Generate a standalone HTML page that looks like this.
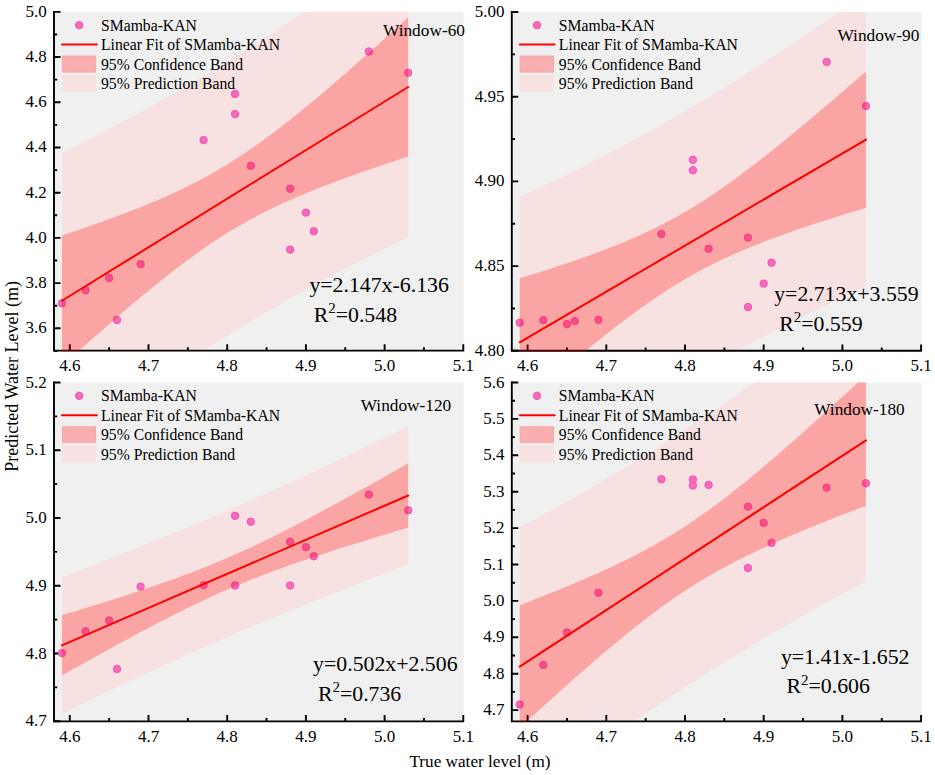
<!DOCTYPE html><html><head><meta charset="utf-8"><style>html,body{margin:0;padding:0;background:#fff;}svg{display:block;}text{font-family:"Liberation Serif", serif;fill:#000;}</style></head><body>
<svg width="935" height="775" viewBox="0 0 935 775">
<rect width="935" height="775" fill="#fff"/>
<defs><clipPath id="c0"><rect x="54" y="11.85" width="409.6" height="339.75"/></clipPath></defs>
<rect x="55" y="11.85" width="408.6" height="338.8" fill="#f0f0f0"/>
<g clip-path="url(#c0)">
<polygon fill="#f8e1e1" points="61.93,152.87 65.87,150.93 69.8,148.98 73.73,147.02 77.67,145.05 81.61,143.07 85.54,141.08 89.48,139.08 93.41,137.07 97.35,135.05 101.28,133.01 105.21,130.97 109.15,128.91 113.09,126.85 117.02,124.77 120.96,122.68 124.89,120.58 128.83,118.46 132.76,116.34 136.69,114.2 140.63,112.06 144.57,109.9 148.5,107.72 152.44,105.54 156.37,103.34 160.31,101.14 164.24,98.92 168.18,96.68 172.11,94.44 176.05,92.18 179.98,89.91 183.92,87.63 187.85,85.34 191.79,83.03 195.72,80.71 199.66,78.38 203.59,76.03 207.53,73.67 211.46,71.3 215.4,68.92 219.33,66.53 223.27,64.12 227.2,61.7 231.14,59.26 235.07,56.82 239.01,54.36 242.94,51.89 246.88,49.4 250.81,46.91 254.75,44.4 258.68,41.87 262.62,39.34 266.55,36.79 270.49,34.23 274.42,31.66 278.36,29.08 282.29,26.48 286.23,23.87 290.16,21.25 294.1,18.61 298.03,15.97 301.97,13.31 305.9,10.64 309.84,7.95 313.77,5.26 317.71,2.55 321.64,-0.16 325.58,-2.89 329.51,-5.64 333.45,-8.39 337.38,-11.15 341.32,-13.93 345.25,-16.72 349.19,-19.52 353.12,-22.33 357.06,-25.15 360.99,-27.98 364.93,-30.82 368.86,-33.68 372.8,-36.54 376.73,-39.42 380.67,-42.3 384.6,-45.2 388.54,-48.11 392.47,-51.02 396.41,-53.95 400.34,-56.89 404.28,-59.84 408.21,-62.79 408.21,236.77 404.28,238.67 400.34,240.59 396.41,242.51 392.47,244.44 388.54,246.38 384.6,248.33 380.67,250.29 376.73,252.26 372.8,254.24 368.86,256.24 364.93,258.24 360.99,260.26 357.06,262.28 353.12,264.32 349.19,266.36 345.25,268.42 341.32,270.49 337.38,272.57 333.45,274.67 329.51,276.77 325.58,278.89 321.64,281.02 317.71,283.15 313.77,285.31 309.84,287.47 305.9,289.64 301.97,291.83 298.03,294.03 294.1,296.24 290.16,298.47 286.23,300.7 282.29,302.95 278.36,305.21 274.42,307.48 270.49,309.77 266.55,312.07 262.62,314.38 258.68,316.7 254.75,319.03 250.81,321.38 246.88,323.74 242.94,326.12 239.01,328.5 235.07,330.9 231.14,333.31 227.2,335.74 223.27,338.17 219.33,340.62 215.4,343.09 211.46,345.56 207.53,348.05 203.59,350.55 199.66,353.06 195.72,355.59 191.79,358.13 187.85,360.68 183.92,363.24 179.98,365.81 176.05,368.4 172.11,371 168.18,373.62 164.24,376.24 160.31,378.88 156.37,381.53 152.44,384.19 148.5,386.86 144.57,389.55 140.63,392.25 136.69,394.96 132.76,397.68 128.83,400.41 124.89,403.16 120.96,405.91 117.02,408.68 113.09,411.46 109.15,414.25 105.21,417.05 101.28,419.87 97.35,422.69 93.41,425.53 89.48,428.37 85.54,431.23 81.61,434.1 77.67,436.97 73.73,439.86 69.8,442.76 65.87,445.67 61.93,448.59"/>
</g>
<g stroke="#000" stroke-width="1.9" fill="none">
<path d="M54 10.9V350.65H464.1"/>
<path d="M54 328.32H60.5M54 283.11H60.5M54 237.9H60.5M54 192.69H60.5M54 147.48H60.5M54 102.27H60.5M54 57.06H60.5M54 11.85H60.5M54 305.71H57.2M54 260.5H57.2M54 215.29H57.2M54 170.08H57.2M54 124.87H57.2M54 79.66H57.2M54 34.45H57.2M54 350.93H57.2M69.8 350.65V344.35M148.5 350.65V344.35M227.2 350.65V344.35M305.9 350.65V344.35M384.6 350.65V344.35M463.3 350.65V344.35M109.15 350.65V347.35M187.85 350.65V347.35M266.55 350.65V347.35M345.25 350.65V347.35M423.95 350.65V347.35"/>
</g>
<g clip-path="url(#c0)" fill="#f76abd" stroke="#f052b0" stroke-width="1">
<circle cx="61.93" cy="303.3" r="3.7"/>
<circle cx="85.54" cy="290.3" r="3.7"/>
<circle cx="109.15" cy="278" r="3.7"/>
<circle cx="117.02" cy="319.9" r="3.7"/>
<circle cx="140.63" cy="264.1" r="3.7"/>
<circle cx="203.59" cy="140.1" r="3.7"/>
<circle cx="235.07" cy="93.9" r="3.7"/>
<circle cx="235.07" cy="114.1" r="3.7"/>
<circle cx="250.81" cy="165.8" r="3.7"/>
<circle cx="290.16" cy="188.7" r="3.7"/>
<circle cx="290.16" cy="249.6" r="3.7"/>
<circle cx="305.9" cy="212.6" r="3.7"/>
<circle cx="313.77" cy="231.2" r="3.7"/>
<circle cx="368.86" cy="51.5" r="3.7"/>
<circle cx="408.21" cy="72.8" r="3.7"/>
</g>
<g clip-path="url(#c0)">
<polygon fill="rgba(255,0,0,0.27)" points="61.93,235.44 65.87,234.13 69.8,232.82 73.73,231.49 77.67,230.16 81.61,228.81 85.54,227.46 89.48,226.1 93.41,224.72 97.35,223.34 101.28,221.94 105.21,220.53 109.15,219.11 113.09,217.67 117.02,216.22 120.96,214.75 124.89,213.27 128.83,211.77 132.76,210.25 136.69,208.7 140.63,207.14 144.57,205.56 148.5,203.95 152.44,202.32 156.37,200.66 160.31,198.97 164.24,197.25 168.18,195.5 172.11,193.72 176.05,191.91 179.98,190.05 183.92,188.16 187.85,186.23 191.79,184.26 195.72,182.25 199.66,180.2 203.59,178.09 207.53,175.94 211.46,173.75 215.4,171.5 219.33,169.2 223.27,166.86 227.2,164.46 231.14,162.01 235.07,159.52 239.01,156.97 242.94,154.37 246.88,151.72 250.81,149.03 254.75,146.28 258.68,143.49 262.62,140.66 266.55,137.78 270.49,134.87 274.42,131.91 278.36,128.91 282.29,125.88 286.23,122.81 290.16,119.71 294.1,116.58 298.03,113.42 301.97,110.23 305.9,107.01 309.84,103.77 313.77,100.5 317.71,97.21 321.64,93.9 325.58,90.57 329.51,87.22 333.45,83.85 337.38,80.46 341.32,77.06 345.25,73.65 349.19,70.21 353.12,66.77 357.06,63.31 360.99,59.84 364.93,56.36 368.86,52.87 372.8,49.37 376.73,45.86 380.67,42.33 384.6,38.8 388.54,35.27 392.47,31.72 396.41,28.17 400.34,24.61 404.28,21.04 408.21,17.47 408.21,156.52 404.28,157.8 400.34,159.09 396.41,160.39 392.47,161.69 388.54,163 384.6,164.32 380.67,165.65 376.73,166.99 372.8,168.33 368.86,169.69 364.93,171.06 360.99,172.43 357.06,173.82 353.12,175.22 349.19,176.63 345.25,178.06 341.32,179.5 337.38,180.96 333.45,182.43 329.51,183.92 325.58,185.42 321.64,186.95 317.71,188.5 313.77,190.06 309.84,191.66 305.9,193.27 301.97,194.91 298.03,196.58 294.1,198.27 290.16,200 286.23,201.76 282.29,203.55 278.36,205.37 274.42,207.23 270.49,209.13 266.55,211.07 262.62,213.05 258.68,215.08 254.75,217.15 250.81,219.26 246.88,221.42 242.94,223.63 239.01,225.89 235.07,228.2 231.14,230.56 227.2,232.97 223.27,235.43 219.33,237.95 215.4,240.51 211.46,243.12 207.53,245.78 203.59,248.49 199.66,251.24 195.72,254.04 191.79,256.89 187.85,259.78 183.92,262.7 179.98,265.67 176.05,268.68 172.11,271.72 168.18,274.8 164.24,277.91 160.31,281.05 156.37,284.22 152.44,287.41 148.5,290.64 144.57,293.89 140.63,297.16 136.69,300.46 132.76,303.77 128.83,307.11 124.89,310.46 120.96,313.84 117.02,317.23 113.09,320.63 109.15,324.05 105.21,327.49 101.28,330.94 97.35,334.4 93.41,337.87 89.48,341.36 85.54,344.85 81.61,348.36 77.67,351.87 73.73,355.39 69.8,358.93 65.87,362.47 61.93,366.01"/>
<line x1="61.93" y1="300.73" x2="408.21" y2="86.99" stroke="#ff0000" stroke-width="2" stroke-linecap="round"/>
</g>
<text x="46.7" y="333.32" font-size="17" text-anchor="end">3.6</text>
<text x="46.7" y="288.11" font-size="17" text-anchor="end">3.8</text>
<text x="46.7" y="242.9" font-size="17" text-anchor="end">4.0</text>
<text x="46.7" y="197.69" font-size="17" text-anchor="end">4.2</text>
<text x="46.7" y="152.48" font-size="17" text-anchor="end">4.4</text>
<text x="46.7" y="107.27" font-size="17" text-anchor="end">4.6</text>
<text x="46.7" y="62.06" font-size="17" text-anchor="end">4.8</text>
<text x="46.7" y="16.85" font-size="17" text-anchor="end">5.0</text>
<text x="69.8" y="370.95" font-size="17" text-anchor="middle">4.6</text>
<text x="148.5" y="370.95" font-size="17" text-anchor="middle">4.7</text>
<text x="227.2" y="370.95" font-size="17" text-anchor="middle">4.8</text>
<text x="305.9" y="370.95" font-size="17" text-anchor="middle">4.9</text>
<text x="384.6" y="370.95" font-size="17" text-anchor="middle">5.0</text>
<text x="463.3" y="370.95" font-size="17" text-anchor="middle">5.1</text>
<circle cx="79.2" cy="25.15" r="3.7" fill="#f76abd" stroke="#f052b0" stroke-width="1"/>
<line x1="62" y1="44.6" x2="96.8" y2="44.6" stroke="#ff0000" stroke-width="2" stroke-linecap="round"/>
<rect x="62.3" y="56" width="33.4" height="16.1" fill="#f9afb0" stroke="#f7a0a1" stroke-width="0.8"/>
<rect x="61.9" y="75" width="34.2" height="16.7" fill="#f8e1e1"/>
<text x="101" y="30.6" font-size="15.7">SMamba-KAN</text>
<text x="101" y="50.1" font-size="15.7">Linear Fit of SMamba-KAN</text>
<text x="101" y="69.6" font-size="15.7">95% Confidence Band</text>
<text x="101" y="89.1" font-size="15.7">95% Prediction Band</text>
<text x="424" y="36.2" font-size="17.3" text-anchor="middle">Window-60</text>
<text x="309.4" y="292.2" font-size="21.8">y=2.147x-6.136</text>
<text x="313.7" y="321.8" font-size="21.8">R<tspan font-size="15" dy="-8.5">2</tspan><tspan dy="8.5">=0.548</tspan></text>
<defs><clipPath id="c1"><rect x="511.8" y="12" width="409.6" height="339.65"/></clipPath></defs>
<rect x="512.8" y="12" width="408.6" height="338.7" fill="#f0f0f0"/>
<g clip-path="url(#c1)">
<polygon fill="#f8e1e1" points="519.73,197.26 523.67,195.44 527.6,193.61 531.53,191.77 535.47,189.91 539.41,188.05 543.34,186.18 547.28,184.3 551.21,182.4 555.15,180.5 559.08,178.58 563.01,176.66 566.95,174.72 570.89,172.77 574.82,170.81 578.76,168.84 582.69,166.86 586.63,164.87 590.56,162.86 594.5,160.84 598.43,158.82 602.37,156.78 606.3,154.73 610.24,152.66 614.17,150.59 618.11,148.5 622.04,146.4 625.98,144.29 629.91,142.17 633.85,140.04 637.78,137.89 641.72,135.73 645.65,133.56 649.59,131.37 653.52,129.18 657.46,126.97 661.39,124.75 665.33,122.52 669.26,120.27 673.2,118.01 677.13,115.74 681.07,113.46 685,111.16 688.94,108.86 692.87,106.54 696.81,104.2 700.74,101.86 704.68,99.5 708.61,97.13 712.55,94.75 716.48,92.35 720.42,89.95 724.35,87.53 728.29,85.09 732.22,82.65 736.16,80.19 740.09,77.73 744.03,75.25 747.96,72.75 751.9,70.25 755.83,67.73 759.77,65.2 763.7,62.66 767.64,60.11 771.57,57.55 775.51,54.97 779.44,52.38 783.38,49.78 787.31,47.17 791.25,44.55 795.18,41.92 799.12,39.28 803.05,36.62 806.99,33.95 810.92,31.28 814.86,28.59 818.79,25.89 822.73,23.18 826.66,20.46 830.6,17.73 834.53,14.99 838.47,12.24 842.4,9.47 846.34,6.7 850.27,3.92 854.21,1.13 858.14,-1.67 862.08,-4.49 866.01,-7.31 866.01,286.61 862.08,288.4 858.14,290.19 854.21,292 850.27,293.81 846.34,295.63 842.4,297.47 838.47,299.31 834.53,301.17 830.6,303.03 826.66,304.91 822.73,306.8 818.79,308.69 814.86,310.6 810.92,312.52 806.99,314.45 803.05,316.39 799.12,318.34 795.18,320.3 791.25,322.27 787.31,324.26 783.38,326.26 779.44,328.26 775.51,330.28 771.57,332.31 767.64,334.36 763.7,336.41 759.77,338.48 755.83,340.55 751.9,342.64 747.96,344.74 744.03,346.86 740.09,348.98 736.16,351.12 732.22,353.27 728.29,355.44 724.35,357.61 720.42,359.8 716.48,362 712.55,364.21 708.61,366.43 704.68,368.67 700.74,370.92 696.81,373.18 692.87,375.45 688.94,377.74 685,380.04 681.07,382.35 677.13,384.67 673.2,387.01 669.26,389.36 665.33,391.72 661.39,394.09 657.46,396.48 653.52,398.87 649.59,401.28 645.65,403.71 641.72,406.14 637.78,408.59 633.85,411.05 629.91,413.52 625.98,416 622.04,418.5 618.11,421.01 614.17,423.53 610.24,426.06 606.3,428.6 602.37,431.16 598.43,433.73 594.5,436.3 590.56,438.9 586.63,441.5 582.69,444.11 578.76,446.73 574.82,449.37 570.89,452.02 566.95,454.68 563.01,457.35 559.08,460.03 555.15,462.72 551.21,465.42 547.28,468.13 543.34,470.85 539.41,473.59 535.47,476.33 531.53,479.09 527.6,481.85 523.67,484.63 519.73,487.41"/>
</g>
<g stroke="#000" stroke-width="1.9" fill="none">
<path d="M511.8 11.05V350.7H921.9"/>
<path d="M511.8 350.8H518.3M511.8 266.1H518.3M511.8 181.4H518.3M511.8 96.7H518.3M511.8 12H518.3M511.8 308.45H515M511.8 223.75H515M511.8 139.05H515M511.8 54.35H515M527.6 350.7V344.4M606.3 350.7V344.4M685 350.7V344.4M763.7 350.7V344.4M842.4 350.7V344.4M921.1 350.7V344.4M566.95 350.7V347.4M645.65 350.7V347.4M724.35 350.7V347.4M803.05 350.7V347.4M881.75 350.7V347.4"/>
</g>
<g clip-path="url(#c1)" fill="#f76abd" stroke="#f052b0" stroke-width="1">
<circle cx="519.73" cy="322.7" r="3.7"/>
<circle cx="543.34" cy="320.1" r="3.7"/>
<circle cx="566.95" cy="324.1" r="3.7"/>
<circle cx="574.82" cy="321.1" r="3.7"/>
<circle cx="598.43" cy="319.8" r="3.7"/>
<circle cx="661.39" cy="234" r="3.7"/>
<circle cx="692.87" cy="159.8" r="3.7"/>
<circle cx="692.87" cy="170.2" r="3.7"/>
<circle cx="708.61" cy="248.8" r="3.7"/>
<circle cx="747.96" cy="237.6" r="3.7"/>
<circle cx="747.96" cy="307" r="3.7"/>
<circle cx="763.7" cy="283.6" r="3.7"/>
<circle cx="771.57" cy="262.7" r="3.7"/>
<circle cx="826.66" cy="61.9" r="3.7"/>
<circle cx="866.01" cy="106" r="3.7"/>
</g>
<g clip-path="url(#c1)">
<polygon fill="rgba(255,0,0,0.27)" points="519.73,278.28 523.67,277.08 527.6,275.86 531.53,274.64 535.47,273.41 539.41,272.18 543.34,270.93 547.28,269.67 551.21,268.4 555.15,267.12 559.08,265.83 563.01,264.53 566.95,263.21 570.89,261.88 574.82,260.54 578.76,259.18 582.69,257.8 586.63,256.41 590.56,255 594.5,253.56 598.43,252.11 602.37,250.64 606.3,249.14 610.24,247.62 614.17,246.07 618.11,244.49 622.04,242.88 625.98,241.25 629.91,239.58 633.85,237.88 637.78,236.14 641.72,234.37 645.65,232.56 649.59,230.7 653.52,228.81 657.46,226.87 661.39,224.89 665.33,222.86 669.26,220.78 673.2,218.66 677.13,216.48 681.07,214.26 685,211.99 688.94,209.67 692.87,207.3 696.81,204.88 700.74,202.41 704.68,199.89 708.61,197.32 712.55,194.71 716.48,192.06 720.42,189.36 724.35,186.61 728.29,183.83 732.22,181.01 736.16,178.15 740.09,175.25 744.03,172.33 747.96,169.36 751.9,166.37 755.83,163.35 759.77,160.3 763.7,157.22 767.64,154.12 771.57,150.99 775.51,147.84 779.44,144.68 783.38,141.49 787.31,138.28 791.25,135.05 795.18,131.81 799.12,128.55 803.05,125.28 806.99,121.99 810.92,118.69 814.86,115.38 818.79,112.06 822.73,108.72 826.66,105.38 830.6,102.02 834.53,98.65 838.47,95.28 842.4,91.89 846.34,88.5 850.27,85.1 854.21,81.7 858.14,78.28 862.08,74.86 866.01,71.44 866.01,207.87 862.08,209.05 858.14,210.23 854.21,211.43 850.27,212.63 846.34,213.83 842.4,215.05 838.47,216.27 834.53,217.5 830.6,218.74 826.66,219.99 822.73,221.25 818.79,222.52 814.86,223.81 810.92,225.1 806.99,226.41 803.05,227.73 799.12,229.06 795.18,230.41 791.25,231.77 787.31,233.15 783.38,234.55 779.44,235.97 775.51,237.41 771.57,238.87 767.64,240.35 763.7,241.85 759.77,243.38 755.83,244.94 751.9,246.52 747.96,248.13 744.03,249.78 740.09,251.46 736.16,253.17 732.22,254.91 728.29,256.7 724.35,258.52 720.42,260.39 716.48,262.29 712.55,264.24 708.61,266.24 704.68,268.28 700.74,270.37 696.81,272.5 692.87,274.69 688.94,276.93 685,279.21 681.07,281.54 677.13,283.93 673.2,286.36 669.26,288.85 665.33,291.38 661.39,293.95 657.46,296.58 653.52,299.25 649.59,301.96 645.65,304.71 641.72,307.5 637.78,310.34 633.85,313.21 629.91,316.11 625.98,319.05 622.04,322.02 618.11,325.02 614.17,328.05 610.24,331.11 606.3,334.19 602.37,337.3 598.43,340.43 594.5,343.59 590.56,346.76 586.63,349.95 582.69,353.17 578.76,356.4 574.82,359.64 570.89,362.9 566.95,366.18 563.01,369.47 559.08,372.77 555.15,376.09 551.21,379.42 547.28,382.76 543.34,386.11 539.41,389.46 535.47,392.83 531.53,396.21 527.6,399.6 523.67,402.99 519.73,406.39"/>
<line x1="519.73" y1="342.34" x2="866.01" y2="139.65" stroke="#ff0000" stroke-width="2" stroke-linecap="round"/>
</g>
<text x="504.5" y="355.8" font-size="17" text-anchor="end">4.80</text>
<text x="504.5" y="271.1" font-size="17" text-anchor="end">4.85</text>
<text x="504.5" y="186.4" font-size="17" text-anchor="end">4.90</text>
<text x="504.5" y="101.7" font-size="17" text-anchor="end">4.95</text>
<text x="504.5" y="17" font-size="17" text-anchor="end">5.00</text>
<text x="527.6" y="371" font-size="17" text-anchor="middle">4.6</text>
<text x="606.3" y="371" font-size="17" text-anchor="middle">4.7</text>
<text x="685" y="371" font-size="17" text-anchor="middle">4.8</text>
<text x="763.7" y="371" font-size="17" text-anchor="middle">4.9</text>
<text x="842.4" y="371" font-size="17" text-anchor="middle">5.0</text>
<text x="921.1" y="371" font-size="17" text-anchor="middle">5.1</text>
<circle cx="537" cy="25.15" r="3.7" fill="#f76abd" stroke="#f052b0" stroke-width="1"/>
<line x1="519.8" y1="44.6" x2="554.6" y2="44.6" stroke="#ff0000" stroke-width="2" stroke-linecap="round"/>
<rect x="520.1" y="56" width="33.4" height="16.1" fill="#f9afb0" stroke="#f7a0a1" stroke-width="0.8"/>
<rect x="519.7" y="75" width="34.2" height="16.7" fill="#f8e1e1"/>
<text x="558.8" y="30.6" font-size="15.7">SMamba-KAN</text>
<text x="558.8" y="50.1" font-size="15.7">Linear Fit of SMamba-KAN</text>
<text x="558.8" y="69.6" font-size="15.7">95% Confidence Band</text>
<text x="558.8" y="89.1" font-size="15.7">95% Prediction Band</text>
<text x="878.4" y="41.2" font-size="17.3" text-anchor="middle">Window-90</text>
<text x="774.2" y="301.4" font-size="21.8">y=2.713x+3.559</text>
<text x="779.2" y="330.5" font-size="21.8">R<tspan font-size="15" dy="-8.5">2</tspan><tspan dy="8.5">=0.559</tspan></text>
<defs><clipPath id="c2"><rect x="54" y="382.5" width="409.6" height="339.8"/></clipPath></defs>
<rect x="55" y="382.5" width="408.6" height="338.85" fill="#f0f0f0"/>
<g clip-path="url(#c2)">
<polygon fill="#f8e1e1" points="61.93,577.07 65.87,575.6 69.8,574.12 73.73,572.63 77.67,571.14 81.61,569.64 85.54,568.14 89.48,566.64 93.41,565.13 97.35,563.61 101.28,562.09 105.21,560.56 109.15,559.03 113.09,557.5 117.02,555.96 120.96,554.41 124.89,552.86 128.83,551.3 132.76,549.74 136.69,548.17 140.63,546.59 144.57,545.02 148.5,543.43 152.44,541.84 156.37,540.25 160.31,538.64 164.24,537.04 168.18,535.42 172.11,533.81 176.05,532.18 179.98,530.55 183.92,528.92 187.85,527.28 191.79,525.63 195.72,523.98 199.66,522.32 203.59,520.65 207.53,518.98 211.46,517.31 215.4,515.62 219.33,513.94 223.27,512.24 227.2,510.54 231.14,508.84 235.07,507.13 239.01,505.41 242.94,503.69 246.88,501.96 250.81,500.22 254.75,498.48 258.68,496.74 262.62,494.98 266.55,493.23 270.49,491.46 274.42,489.69 278.36,487.92 282.29,486.14 286.23,484.35 290.16,482.56 294.1,480.76 298.03,478.95 301.97,477.15 305.9,475.33 309.84,473.51 313.77,471.68 317.71,469.85 321.64,468.02 325.58,466.17 329.51,464.33 333.45,462.47 337.38,460.61 341.32,458.75 345.25,456.88 349.19,455.01 353.12,453.13 357.06,451.24 360.99,449.35 364.93,447.46 368.86,445.56 372.8,443.65 376.73,441.74 380.67,439.83 384.6,437.91 388.54,435.99 392.47,434.06 396.41,432.13 400.34,430.19 404.28,428.24 408.21,426.3 408.21,564.64 404.28,566.1 400.34,567.56 396.41,569.03 392.47,570.51 388.54,571.98 384.6,573.47 380.67,574.95 376.73,576.45 372.8,577.94 368.86,579.45 364.93,580.95 360.99,582.46 357.06,583.98 353.12,585.5 349.19,587.03 345.25,588.56 341.32,590.1 337.38,591.64 333.45,593.19 329.51,594.74 325.58,596.3 321.64,597.87 317.71,599.44 313.77,601.01 309.84,602.59 305.9,604.18 301.97,605.77 298.03,607.37 294.1,608.97 290.16,610.58 286.23,612.19 282.29,613.81 278.36,615.44 274.42,617.07 270.49,618.71 266.55,620.35 262.62,622 258.68,623.65 254.75,625.31 250.81,626.98 246.88,628.65 242.94,630.33 239.01,632.01 235.07,633.7 231.14,635.4 227.2,637.1 223.27,638.8 219.33,640.52 215.4,642.24 211.46,643.96 207.53,645.69 203.59,647.43 199.66,649.17 195.72,650.92 191.79,652.67 187.85,654.43 183.92,656.2 179.98,657.97 176.05,659.74 172.11,661.53 168.18,663.32 164.24,665.11 160.31,666.91 156.37,668.71 152.44,670.52 148.5,672.34 144.57,674.16 140.63,675.99 136.69,677.82 132.76,679.66 128.83,681.51 124.89,683.36 120.96,685.21 117.02,687.07 113.09,688.93 109.15,690.81 105.21,692.68 101.28,694.56 97.35,696.45 93.41,698.34 89.48,700.23 85.54,702.14 81.61,704.04 77.67,705.95 73.73,707.87 69.8,709.79 65.87,711.71 61.93,713.64"/>
</g>
<g stroke="#000" stroke-width="1.9" fill="none">
<path d="M54 381.55V721.35H464.1"/>
<path d="M54 721.25H60.5M54 653.5H60.5M54 585.75H60.5M54 518H60.5M54 450.25H60.5M54 382.5H60.5M54 687.38H57.2M54 619.63H57.2M54 551.88H57.2M54 484.13H57.2M54 416.38H57.2M69.8 721.35V715.05M148.5 721.35V715.05M227.2 721.35V715.05M305.9 721.35V715.05M384.6 721.35V715.05M463.3 721.35V715.05M109.15 721.35V718.05M187.85 721.35V718.05M266.55 721.35V718.05M345.25 721.35V718.05M423.95 721.35V718.05"/>
</g>
<g clip-path="url(#c2)" fill="#f76abd" stroke="#f052b0" stroke-width="1">
<circle cx="61.93" cy="653" r="3.7"/>
<circle cx="85.54" cy="631.3" r="3.7"/>
<circle cx="109.15" cy="620.4" r="3.7"/>
<circle cx="117.02" cy="669" r="3.7"/>
<circle cx="140.63" cy="586.6" r="3.7"/>
<circle cx="203.59" cy="585.1" r="3.7"/>
<circle cx="235.07" cy="515.8" r="3.7"/>
<circle cx="235.07" cy="585.4" r="3.7"/>
<circle cx="250.81" cy="521.7" r="3.7"/>
<circle cx="290.16" cy="541.7" r="3.7"/>
<circle cx="290.16" cy="585.5" r="3.7"/>
<circle cx="305.9" cy="547.2" r="3.7"/>
<circle cx="313.77" cy="556.3" r="3.7"/>
<circle cx="368.86" cy="494.6" r="3.7"/>
<circle cx="408.21" cy="510.3" r="3.7"/>
</g>
<g clip-path="url(#c2)">
<polygon fill="rgba(255,0,0,0.27)" points="61.93,615.21 65.87,614.02 69.8,612.83 73.73,611.64 77.67,610.44 81.61,609.24 85.54,608.03 89.48,606.82 93.41,605.61 97.35,604.38 101.28,603.16 105.21,601.93 109.15,600.69 113.09,599.44 117.02,598.19 120.96,596.93 124.89,595.66 128.83,594.39 132.76,593.1 136.69,591.81 140.63,590.51 144.57,589.19 148.5,587.87 152.44,586.53 156.37,585.19 160.31,583.82 164.24,582.45 168.18,581.06 172.11,579.66 176.05,578.24 179.98,576.8 183.92,575.34 187.85,573.87 191.79,572.38 195.72,570.87 199.66,569.34 203.59,567.79 207.53,566.21 211.46,564.62 215.4,563 219.33,561.35 223.27,559.69 227.2,558 231.14,556.29 235.07,554.55 239.01,552.8 242.94,551.01 246.88,549.21 250.81,547.38 254.75,545.53 258.68,543.66 262.62,541.77 266.55,539.86 270.49,537.94 274.42,535.99 278.36,534.02 282.29,532.04 286.23,530.04 290.16,528.03 294.1,526 298.03,523.96 301.97,521.9 305.9,519.84 309.84,517.76 313.77,515.67 317.71,513.57 321.64,511.46 325.58,509.34 329.51,507.21 333.45,505.07 337.38,502.92 341.32,500.77 345.25,498.61 349.19,496.45 353.12,494.27 357.06,492.1 360.99,489.91 364.93,487.72 368.86,485.53 372.8,483.33 376.73,481.13 380.67,478.92 384.6,476.71 388.54,474.49 392.47,472.27 396.41,470.05 400.34,467.82 404.28,465.59 408.21,463.36 408.21,527.58 404.28,528.75 400.34,529.93 396.41,531.11 392.47,532.29 388.54,533.48 384.6,534.67 380.67,535.87 376.73,537.07 372.8,538.27 368.86,539.48 364.93,540.69 360.99,541.91 357.06,543.13 353.12,544.36 349.19,545.59 345.25,546.83 341.32,548.08 337.38,549.33 333.45,550.59 329.51,551.86 325.58,553.14 321.64,554.43 317.71,555.72 313.77,557.03 309.84,558.34 305.9,559.67 301.97,561.01 298.03,562.36 294.1,563.73 290.16,565.11 286.23,566.5 282.29,567.91 278.36,569.33 274.42,570.77 270.49,572.23 266.55,573.71 262.62,575.21 258.68,576.72 254.75,578.26 250.81,579.82 246.88,581.4 242.94,583 239.01,584.63 235.07,586.27 231.14,587.95 227.2,589.64 223.27,591.36 219.33,593.1 215.4,594.86 211.46,596.65 207.53,598.46 203.59,600.29 199.66,602.15 195.72,604.02 191.79,605.92 187.85,607.83 183.92,609.77 179.98,611.72 176.05,613.69 172.11,615.68 168.18,617.68 164.24,619.7 160.31,621.73 156.37,623.77 152.44,625.83 148.5,627.9 144.57,629.99 140.63,632.08 136.69,634.18 132.76,636.3 128.83,638.42 124.89,640.55 120.96,642.69 117.02,644.84 113.09,646.99 109.15,649.15 105.21,651.32 101.28,653.49 97.35,655.67 93.41,657.86 89.48,660.05 85.54,662.24 81.61,664.45 77.67,666.65 73.73,668.86 69.8,671.07 65.87,673.29 61.93,675.51"/>
<line x1="61.93" y1="645.36" x2="408.21" y2="495.47" stroke="#ff0000" stroke-width="2" stroke-linecap="round"/>
</g>
<text x="46.7" y="726.25" font-size="17" text-anchor="end">4.7</text>
<text x="46.7" y="658.5" font-size="17" text-anchor="end">4.8</text>
<text x="46.7" y="590.75" font-size="17" text-anchor="end">4.9</text>
<text x="46.7" y="523" font-size="17" text-anchor="end">5.0</text>
<text x="46.7" y="455.25" font-size="17" text-anchor="end">5.1</text>
<text x="46.7" y="387.5" font-size="17" text-anchor="end">5.2</text>
<text x="69.8" y="741.65" font-size="17" text-anchor="middle">4.6</text>
<text x="148.5" y="741.65" font-size="17" text-anchor="middle">4.7</text>
<text x="227.2" y="741.65" font-size="17" text-anchor="middle">4.8</text>
<text x="305.9" y="741.65" font-size="17" text-anchor="middle">4.9</text>
<text x="384.6" y="741.65" font-size="17" text-anchor="middle">5.0</text>
<text x="463.3" y="741.65" font-size="17" text-anchor="middle">5.1</text>
<circle cx="79.2" cy="395.85" r="3.7" fill="#f76abd" stroke="#f052b0" stroke-width="1"/>
<line x1="62" y1="415.3" x2="96.8" y2="415.3" stroke="#ff0000" stroke-width="2" stroke-linecap="round"/>
<rect x="62.3" y="426.7" width="33.4" height="16.1" fill="#f9afb0" stroke="#f7a0a1" stroke-width="0.8"/>
<rect x="61.9" y="445.7" width="34.2" height="16.7" fill="#f8e1e1"/>
<text x="101" y="401.3" font-size="15.7">SMamba-KAN</text>
<text x="101" y="420.8" font-size="15.7">Linear Fit of SMamba-KAN</text>
<text x="101" y="440.3" font-size="15.7">95% Confidence Band</text>
<text x="101" y="459.8" font-size="15.7">95% Prediction Band</text>
<text x="406" y="410.7" font-size="17.3" text-anchor="middle">Window-120</text>
<text x="313.1" y="670.5" font-size="21.8">y=0.502x+2.506</text>
<text x="317.9" y="700.5" font-size="21.8">R<tspan font-size="15" dy="-8.5">2</tspan><tspan dy="8.5">=0.736</tspan></text>
<defs><clipPath id="c3"><rect x="511.8" y="382.5" width="409.6" height="339.8"/></clipPath></defs>
<rect x="512.8" y="382.5" width="408.6" height="338.85" fill="#f0f0f0"/>
<g clip-path="url(#c3)">
<polygon fill="#f8e1e1" points="519.73,527.63 523.67,525.52 527.6,523.4 531.53,521.27 535.47,519.13 539.41,516.98 543.34,514.83 547.28,512.66 551.21,510.48 555.15,508.29 559.08,506.09 563.01,503.88 566.95,501.66 570.89,499.43 574.82,497.18 578.76,494.93 582.69,492.67 586.63,490.39 590.56,488.11 594.5,485.81 598.43,483.5 602.37,481.19 606.3,478.86 610.24,476.52 614.17,474.16 618.11,471.8 622.04,469.42 625.98,467.04 629.91,464.64 633.85,462.23 637.78,459.81 641.72,457.37 645.65,454.93 649.59,452.47 653.52,450 657.46,447.52 661.39,445.03 665.33,442.53 669.26,440.01 673.2,437.48 677.13,434.94 681.07,432.39 685,429.83 688.94,427.25 692.87,424.66 696.81,422.06 700.74,419.45 704.68,416.83 708.61,414.19 712.55,411.55 716.48,408.89 720.42,406.22 724.35,403.53 728.29,400.84 732.22,398.13 736.16,395.41 740.09,392.68 744.03,389.94 747.96,387.19 751.9,384.43 755.83,381.65 759.77,378.86 763.7,376.06 767.64,373.25 771.57,370.43 775.51,367.6 779.44,364.76 783.38,361.9 787.31,359.04 791.25,356.16 795.18,353.27 799.12,350.38 803.05,347.47 806.99,344.55 810.92,341.62 814.86,338.68 818.79,335.73 822.73,332.77 826.66,329.8 830.6,326.82 834.53,323.82 838.47,320.82 842.4,317.81 846.34,314.79 850.27,311.76 854.21,308.72 858.14,305.67 862.08,302.62 866.01,299.55 866.01,581.11 862.08,583.18 858.14,585.27 854.21,587.36 850.27,589.47 846.34,591.58 842.4,593.7 838.47,595.83 834.53,597.97 830.6,600.13 826.66,602.29 822.73,604.46 818.79,606.64 814.86,608.83 810.92,611.04 806.99,613.25 803.05,615.47 799.12,617.71 795.18,619.95 791.25,622.21 787.31,624.47 783.38,626.75 779.44,629.04 775.51,631.34 771.57,633.65 767.64,635.97 763.7,638.3 759.77,640.65 755.83,643 751.9,645.37 747.96,647.75 744.03,650.14 740.09,652.54 736.16,654.95 732.22,657.38 728.29,659.81 724.35,662.26 720.42,664.72 716.48,667.19 712.55,669.68 708.61,672.17 704.68,674.68 700.74,677.2 696.81,679.73 692.87,682.27 688.94,684.83 685,687.4 681.07,689.97 677.13,692.57 673.2,695.17 669.26,697.78 665.33,700.41 661.39,703.05 657.46,705.7 653.52,708.36 649.59,711.03 645.65,713.72 641.72,716.42 637.78,719.13 633.85,721.85 629.91,724.58 625.98,727.33 622.04,730.08 618.11,732.85 614.17,735.63 610.24,738.42 606.3,741.22 602.37,744.03 598.43,746.86 594.5,749.69 590.56,752.54 586.63,755.4 582.69,758.26 578.76,761.14 574.82,764.03 570.89,766.93 566.95,769.85 563.01,772.77 559.08,775.7 555.15,778.64 551.21,781.6 547.28,784.56 543.34,787.53 539.41,790.52 535.47,793.51 531.53,796.51 527.6,799.53 523.67,802.55 519.73,805.58"/>
</g>
<g stroke="#000" stroke-width="1.9" fill="none">
<path d="M511.8 381.55V721.35H921.9"/>
<path d="M511.8 710.1H518.3M511.8 673.7H518.3M511.8 637.3H518.3M511.8 600.9H518.3M511.8 564.5H518.3M511.8 528.1H518.3M511.8 491.7H518.3M511.8 455.3H518.3M511.8 418.9H518.3M511.8 382.5H518.3M511.8 691.9H515M511.8 655.5H515M511.8 619.1H515M511.8 582.7H515M511.8 546.3H515M511.8 509.9H515M511.8 473.5H515M511.8 437.1H515M511.8 400.7H515M527.6 721.35V715.05M606.3 721.35V715.05M685 721.35V715.05M763.7 721.35V715.05M842.4 721.35V715.05M921.1 721.35V715.05M566.95 721.35V718.05M645.65 721.35V718.05M724.35 721.35V718.05M803.05 721.35V718.05M881.75 721.35V718.05"/>
</g>
<g clip-path="url(#c3)" fill="#f76abd" stroke="#f052b0" stroke-width="1">
<circle cx="519.73" cy="704.5" r="3.7"/>
<circle cx="543.34" cy="664.9" r="3.7"/>
<circle cx="566.95" cy="632.4" r="3.7"/>
<circle cx="574.82" cy="739.22" r="3.7"/>
<circle cx="598.43" cy="592.7" r="3.7"/>
<circle cx="661.39" cy="479.2" r="3.7"/>
<circle cx="692.87" cy="479.5" r="3.7"/>
<circle cx="692.87" cy="485.5" r="3.7"/>
<circle cx="708.61" cy="484.9" r="3.7"/>
<circle cx="747.96" cy="506.6" r="3.7"/>
<circle cx="747.96" cy="568" r="3.7"/>
<circle cx="763.7" cy="522.9" r="3.7"/>
<circle cx="771.57" cy="542.9" r="3.7"/>
<circle cx="826.66" cy="487.6" r="3.7"/>
<circle cx="866.01" cy="483.2" r="3.7"/>
</g>
<g clip-path="url(#c3)">
<polygon fill="rgba(255,0,0,0.27)" points="519.73,605.25 523.67,603.73 527.6,602.2 531.53,600.67 535.47,599.12 539.41,597.57 543.34,596.01 547.28,594.44 551.21,592.86 555.15,591.27 559.08,589.67 563.01,588.06 566.95,586.43 570.89,584.79 574.82,583.14 578.76,581.47 582.69,579.79 586.63,578.09 590.56,576.37 594.5,574.63 598.43,572.88 602.37,571.1 606.3,569.3 610.24,567.48 614.17,565.63 618.11,563.75 622.04,561.85 625.98,559.92 629.91,557.95 633.85,555.96 637.78,553.93 641.72,551.87 645.65,549.76 649.59,547.62 653.52,545.44 657.46,543.22 661.39,540.96 665.33,538.65 669.26,536.29 673.2,533.9 677.13,531.45 681.07,528.96 685,526.41 688.94,523.83 692.87,521.19 696.81,518.51 700.74,515.77 704.68,513 708.61,510.18 712.55,507.31 716.48,504.4 720.42,501.45 724.35,498.46 728.29,495.42 732.22,492.36 736.16,489.25 740.09,486.11 744.03,482.94 747.96,479.74 751.9,476.51 755.83,473.25 759.77,469.96 763.7,466.65 767.64,463.31 771.57,459.95 775.51,456.57 779.44,453.17 783.38,449.75 787.31,446.31 791.25,442.86 795.18,439.39 799.12,435.9 803.05,432.4 806.99,428.89 810.92,425.36 814.86,421.82 818.79,418.27 822.73,414.71 826.66,411.14 830.6,407.56 834.53,403.97 838.47,400.37 842.4,396.77 846.34,393.15 850.27,389.53 854.21,385.91 858.14,382.27 862.08,378.63 866.01,374.98 866.01,505.68 862.08,507.17 858.14,508.67 854.21,510.18 850.27,511.69 846.34,513.22 842.4,514.74 838.47,516.28 834.53,517.83 830.6,519.38 826.66,520.94 822.73,522.51 818.79,524.1 814.86,525.69 810.92,527.29 806.99,528.91 803.05,530.54 799.12,532.18 795.18,533.84 791.25,535.51 787.31,537.2 783.38,538.9 779.44,540.63 775.51,542.37 771.57,544.13 767.64,545.91 763.7,547.72 759.77,549.55 755.83,551.41 751.9,553.29 747.96,555.2 744.03,557.14 740.09,559.11 736.16,561.11 732.22,563.15 728.29,565.23 724.35,567.34 720.42,569.49 716.48,571.68 712.55,573.91 708.61,576.19 704.68,578.51 700.74,580.88 696.81,583.29 692.87,585.75 688.94,588.25 685,590.81 681.07,593.41 677.13,596.06 673.2,598.75 669.26,601.5 665.33,604.29 661.39,607.12 657.46,610 653.52,612.92 649.59,615.88 645.65,618.88 641.72,621.93 637.78,625 633.85,628.12 629.91,631.27 625.98,634.45 622.04,637.66 618.11,640.9 614.17,644.16 610.24,647.46 606.3,650.78 602.37,654.12 598.43,657.48 594.5,660.87 590.56,664.28 586.63,667.7 582.69,671.14 578.76,674.6 574.82,678.08 570.89,681.57 566.95,685.07 563.01,688.59 559.08,692.12 555.15,695.66 551.21,699.21 547.28,702.77 543.34,706.35 539.41,709.93 535.47,713.52 531.53,717.12 527.6,720.73 523.67,724.35 519.73,727.97"/>
<line x1="519.73" y1="666.61" x2="866.01" y2="440.33" stroke="#ff0000" stroke-width="2" stroke-linecap="round"/>
</g>
<text x="504.5" y="715.1" font-size="17" text-anchor="end">4.7</text>
<text x="504.5" y="678.7" font-size="17" text-anchor="end">4.8</text>
<text x="504.5" y="642.3" font-size="17" text-anchor="end">4.9</text>
<text x="504.5" y="605.9" font-size="17" text-anchor="end">5.0</text>
<text x="504.5" y="569.5" font-size="17" text-anchor="end">5.1</text>
<text x="504.5" y="533.1" font-size="17" text-anchor="end">5.2</text>
<text x="504.5" y="496.7" font-size="17" text-anchor="end">5.3</text>
<text x="504.5" y="460.3" font-size="17" text-anchor="end">5.4</text>
<text x="504.5" y="423.9" font-size="17" text-anchor="end">5.5</text>
<text x="504.5" y="387.5" font-size="17" text-anchor="end">5.6</text>
<text x="527.6" y="741.65" font-size="17" text-anchor="middle">4.6</text>
<text x="606.3" y="741.65" font-size="17" text-anchor="middle">4.7</text>
<text x="685" y="741.65" font-size="17" text-anchor="middle">4.8</text>
<text x="763.7" y="741.65" font-size="17" text-anchor="middle">4.9</text>
<text x="842.4" y="741.65" font-size="17" text-anchor="middle">5.0</text>
<text x="921.1" y="741.65" font-size="17" text-anchor="middle">5.1</text>
<circle cx="537" cy="395.85" r="3.7" fill="#f76abd" stroke="#f052b0" stroke-width="1"/>
<line x1="519.8" y1="415.3" x2="554.6" y2="415.3" stroke="#ff0000" stroke-width="2" stroke-linecap="round"/>
<rect x="520.1" y="426.7" width="33.4" height="16.1" fill="#f9afb0" stroke="#f7a0a1" stroke-width="0.8"/>
<rect x="519.7" y="445.7" width="34.2" height="16.7" fill="#f8e1e1"/>
<text x="558.8" y="401.3" font-size="15.7">SMamba-KAN</text>
<text x="558.8" y="420.8" font-size="15.7">Linear Fit of SMamba-KAN</text>
<text x="558.8" y="440.3" font-size="15.7">95% Confidence Band</text>
<text x="558.8" y="459.8" font-size="15.7">95% Prediction Band</text>
<text x="859.5" y="415" font-size="17.3" text-anchor="middle">Window-180</text>
<text x="780.9" y="663.6" font-size="21.8">y=1.41x-1.652</text>
<text x="786.5" y="693.3" font-size="21.8">R<tspan font-size="15" dy="-8.5">2</tspan><tspan dy="8.5">=0.606</tspan></text>
<text x="17.9" y="376.4" font-size="18" text-anchor="middle" transform="rotate(-90 17.9 376.4)">Predicted Water Level (m)</text>
<text x="480" y="766.8" font-size="17.2" text-anchor="middle">True water level (m)</text>
</svg></body></html>
